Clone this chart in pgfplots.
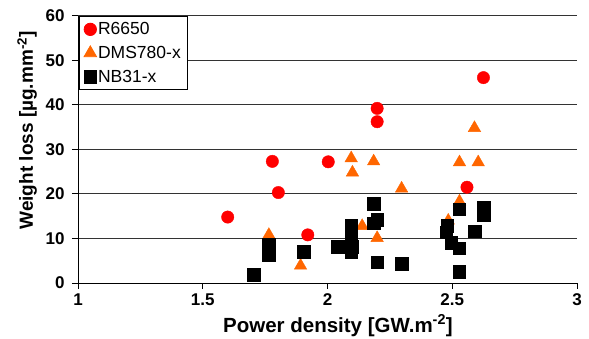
\documentclass[border=0pt]{standalone}
\usepackage{pgfplots}
\pgfplotsset{compat=1.18}
\usepackage{fontspec}
\setmainfont{Liberation Sans}
\definecolor{myred}{RGB}{255,0,0}
\definecolor{myorange}{RGB}{255,102,0}
\begin{document}
\begin{tikzpicture}
\begin{axis}[name=ax,
  scale only axis, width=499pt, height=267.3pt,
  xmin=1, xmax=3, ymin=0, ymax=60,
  xtick={1,1.5,2,2.5,3}, ytick={0,10,...,60},
  axis lines*=left,
  tick align=outside, major tick length=6pt,
  ymajorgrids, grid style={black!80, line width=0.8pt},
  axis line style={line width=0.8pt},
  tick style={black, line width=0.8pt},
  /pgf/number format/assume math mode=true,
  ticklabel style={font=\bfseries\fontsize{17}{17}\selectfont},
  yticklabel style={xshift=-4pt},
  xticklabel style={yshift=-1.5pt},
  xlabel={Power density [GW.m\textsuperscript{-2}]},
  ylabel={Weight loss [µg.mm\textsuperscript{-2}]},
  xlabel style={font=\bfseries\fontsize{20.5}{20.5}\selectfont, at={(axis description cs:0.521,-0.184)}, anchor=base},
  ylabel style={font=\bfseries\fontsize{19}{19}\selectfont, at={(axis description cs:-0.102,0.571)}, anchor=center},
  legend style={at={(0.0012,0.9985)}, anchor=north west, draw=black, line width=0.8pt,
    font=\fontsize{17.5}{17.5}\selectfont, inner xsep=5pt, inner ysep=1pt, row sep=0pt,
    nodes={inner xsep=1.5pt, inner ysep=5pt}},
  legend cell align=left,
  legend image code/.code={\draw[mark repeat=2,mark phase=2,#1] plot coordinates {(0pt,0pt)(6.5pt,0pt)(13pt,0pt)};},
]
\addplot[only marks, mark=*, mark size=6.2pt, color=myred, mark options={draw=myred, fill=myred}] coordinates {
(1.600,14.8) (1.779,27.3) (1.803,20.3) (1.921,10.8) (2.003,27.2)
(2.199,39.2) (2.199,36.2) (2.559,21.5) (2.625,46.1)};
\addlegendentry{R6650}
\addplot[only marks, mark=triangle*, mark size=7.2pt, color=myorange, mark options={draw=myorange, fill=myorange}] coordinates {
(1.765,10.8) (1.892,3.9) (2.095,28.0) (2.100,24.8) (2.139,12.8)
(2.185,27.3) (2.199,10.1) (2.297,21.2) (2.484,14.0) (2.529,18.3)
(2.529,27.1) (2.604,27.1) (2.589,34.8)};
\addlegendentry{DMS780-x}
\addplot[only marks, mark=square*, mark size=6.3pt, color=black, mark options={draw=black, fill=black}] coordinates {
(1.704,1.8) (1.765,8.6) (1.765,6.3) (1.905,7.0) (2.041,8.2)
(2.095,13.0) (2.095,10.8) (2.098,8.2) (2.095,7.0)
(2.185,17.8) (2.199,14.2) (2.185,13.4) (2.199,4.7) (2.297,4.3)
(2.480,12.8) (2.475,11.4) (2.495,9.1) (2.528,7.8) (2.528,16.6) (2.528,2.6)
(2.589,11.6) (2.627,16.9) (2.627,15.2)};
\addlegendentry{NB31-x}
\end{axis}
\pgfresetboundingbox
\path[use as bounding box] ([xshift=-78pt,yshift=-56pt]ax.south west) rectangle ([xshift=12pt,yshift=15.7pt]ax.north east);
\end{tikzpicture}
\end{document}
